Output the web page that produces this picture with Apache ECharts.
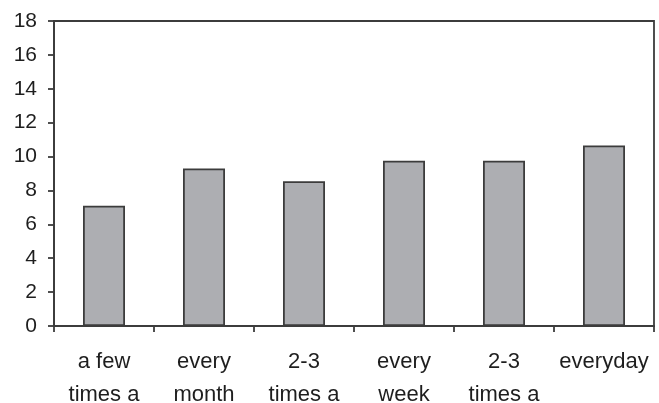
<!DOCTYPE html>
<html><head><meta charset="utf-8">
<script src="https://cdn.jsdelivr.net/npm/echarts@6/dist/echarts.min.js"></script>
<style>html,body{margin:0;padding:0;background:#fff}#c{width:659px;height:403px}</style>
</head><body><div id="c"></div>
<script>
const categories = ["a few\ntimes a", "every\nmonth", "2-3\ntimes a", "every\nweek", "2-3\ntimes a", "everyday"];
const values = [7.1, 9.3, 8.55, 9.75, 9.75, 10.65];
const yMin = 0, yMax = 18, yStep = 2;

const chart = echarts.init(document.getElementById('c'), null, {renderer: 'canvas'});
const axisCol = '#3c3c3c';
const font = 'Liberation Sans, Arial, sans-serif';
chart.setOption({
  animation: false,
  grid: {left: 54, right: 5, top: 21, bottom: 77, outerBoundsMode: 'none', containLabel: false,
         show: true, borderColor: axisCol, borderWidth: 1.8, backgroundColor: 'transparent'},
  xAxis: {
    type: 'category', data: categories,
    axisLine: {lineStyle: {color: axisCol, width: 1.8}},
    axisTick: {show: true, length: 6, lineStyle: {color: axisCol, width: 1.8}},
    axisLabel: {color: '#1e1e1e', fontSize: 22, fontFamily: font, lineHeight: 33, margin: 19, interval: 0}
  },
  yAxis: {
    type: 'value', min: yMin, max: yMax, interval: yStep,
    axisLine: {show: true, lineStyle: {color: axisCol, width: 1.8}},
    axisTick: {show: true, length: 6, lineStyle: {color: axisCol, width: 1.8}},
    splitLine: {show: false},
    axisLabel: {color: '#1e1e1e', fontSize: 21, fontFamily: font, margin: 17}
  },
  series: [{
    type: 'bar', data: values, barWidth: '42%',
    itemStyle: {color: '#adaeb2', borderColor: '#3c3c3c', borderWidth: 1.8}
  }]
});
</script></body></html>
